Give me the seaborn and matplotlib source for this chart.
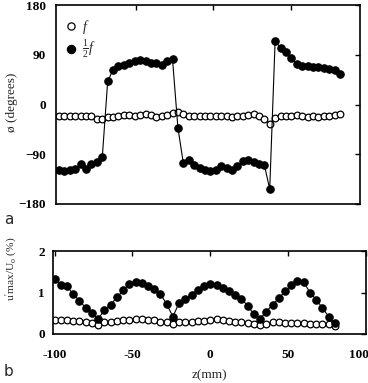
import numpy as np
import matplotlib
matplotlib.use("Agg")
import matplotlib.pyplot as plt
from matplotlib.lines import Line2D
import matplotlib.transforms as mtransforms
import seaborn as sns

# ---- panel a: phase angle vs z ----
z_top = [-100, -96.5, -93, -89.5, -86, -82.5, -79, -75.5, -72, -68.5,
         -65, -61.5, -58, -54.5, -51, -47.5, -44, -40.5, -37, -33.5,
         -30, -26.5, -23, -19.5, -16, -12.5, -9, -5.5, -2, 1.5,
         5, 8.5, 12, 15.5, 19, 22.5, 26, 29.5, 33, 36.5,
         40, 43.5, 47, 50.5, 54, 57.5, 61, 64.5, 68, 71.5,
         75, 78.5, 82]
phase_f = [-21, -21, -21, -21, -21, -20, -21, -27, -26, -23,
           -22, -20, -19, -19, -20, -19, -18, -19, -23, -21,
           -19, -16, -14, -18, -21, -20, -21, -21, -21, -20,
           -21, -20, -22, -21, -21, -19, -18, -20, -26, -35,
           -24, -21, -20, -21, -19, -21, -22, -21, -23, -21,
           -20, -19, -17]
phase_half = [-118, -120, -119, -116, -108, -116, -107, -104, -95, 42,
              63, 69, 72, 75, 78, 80, 78, 75, 75, 72,
              78, 82, -42, -106, -100, -109, -115, -119, -121, -118,
              -112, -115, -119, -112, -102, -100, -104, -107, -109, -153,
              115, 102, 95, 85, 73, 70, 69, 68, 67, 66,
              65, 62, 56]

# ---- panel b: u'max/U0 vs z ----
z_bot = [-100, -96, -92, -88, -84, -80, -76, -72, -68, -64,
         -60, -56, -52, -48, -44, -40, -36, -32, -28, -24,
         -20, -16, -12, -8, -4, 0, 4, 8, 12, 16,
         20, 24, 28, 32, 36, 40, 44, 48, 52, 56,
         60, 64, 68, 72, 76, 80]
u_f = [0.33, 0.33, 0.33, 0.32, 0.31, 0.30, 0.27, 0.22, 0.28, 0.30,
       0.31, 0.33, 0.34, 0.36, 0.35, 0.34, 0.33, 0.30, 0.28, 0.25,
       0.28, 0.30, 0.30, 0.31, 0.32, 0.34, 0.35, 0.33, 0.31, 0.30,
       0.28, 0.26, 0.24, 0.22, 0.24, 0.28, 0.28, 0.27, 0.27, 0.26,
       0.26, 0.25, 0.25, 0.24, 0.23, 0.20]
u_half = [1.32, 1.18, 1.15, 0.96, 0.80, 0.63, 0.50, 0.37, 0.57, 0.71,
          0.88, 1.05, 1.20, 1.26, 1.24, 1.15, 1.08, 0.96, 0.72, 0.42,
          0.75, 0.85, 0.95, 1.06, 1.15, 1.20, 1.17, 1.10, 1.03, 0.95,
          0.85, 0.68, 0.47, 0.37, 0.54, 0.71, 0.86, 1.03, 1.17, 1.28,
          1.25, 1.00, 0.83, 0.63, 0.42, 0.27]

sns.set_style("white")
plt.rcParams["font.family"] = ["Liberation Serif", "DejaVu Serif"]
plt.rcParams["mathtext.fontset"] = "custom"
plt.rcParams["mathtext.rm"] = "Liberation Serif"
plt.rcParams["mathtext.it"] = "Liberation Serif:italic"

fig = plt.figure(figsize=(3.68, 3.83), dpi=100)
W, H = 368, 383
ax1 = fig.add_axes([56 / W, 1 - 204 / H, (360 - 56) / W, (204 - 5) / H])
ax2 = fig.add_axes([53 / W, 1 - 334 / H, (366 - 53) / W, (334 - 251) / H])

open_kw = dict(color="black", lw=0.8, marker="o", markersize=4.8,
               markerfacecolor="white", markeredgecolor="black",
               markeredgewidth=0.9)
fill_kw = dict(color="black", lw=0.8, marker="o", markersize=5.4,
               markerfacecolor="black", markeredgecolor="black")

sns.lineplot(x=z_top, y=phase_f, ax=ax1, sort=False, **open_kw)
sns.lineplot(x=z_top, y=phase_half, ax=ax1, sort=False, **fill_kw)
sns.lineplot(x=z_bot, y=u_f, ax=ax2, sort=False, **open_kw)
sns.lineplot(x=z_bot, y=u_half, ax=ax2, sort=False, **fill_kw)

for ax in (ax1, ax2):
    for s in ax.spines.values():
        s.set_linewidth(1.2)
        s.set_color("black")
    ax.tick_params(direction="in", top=True, right=True, length=3.5,
                   width=1, labelsize=9.5, colors="black")

# panel a axes
ax1.set_xlim(-102, 95)
ax1.set_ylim(-180, 180)
ax1.set_xticks([-50, 0, 50])
ax1.set_xticklabels([])
ax1.set_yticks([180, 90, 0, -90, -180])
ax1.set_yticklabels(["180", "90", "0", "\u221290", "\u2212180"],
                    fontweight="bold", fontsize=9.5)
ax1.tick_params(axis="y", pad=7)
ax1.set_xlabel("")
ax1.set_ylabel("\u00f8 (degrees)", fontsize=9.5)
ax1.yaxis.set_label_coords(-0.125, 0.51)

handles = [Line2D([], [], ls="none", marker="o", markersize=5.2,
                  markerfacecolor="white", markeredgecolor="black",
                  markeredgewidth=0.9),
           Line2D([], [], ls="none", marker="o", markersize=5.8,
                  markerfacecolor="black", markeredgecolor="black")]
ax1.legend(handles, ["$f$", r"$\frac{1}{2}f$"], loc="upper left",
           bbox_to_anchor=(0.0, 0.985), frameon=False, fontsize=10,
           handlelength=0.8, handletextpad=0.4, labelspacing=0.15,
           borderaxespad=0.3)

# panel b axes
ax2.set_xlim(-101, 100)
ax2.set_ylim(0, 2)
ax2.set_xticks([-100, -50, 0, 50, 100])
ax2.set_xticklabels(["-100", "-50", "0", "50", "100"],
                    fontweight="bold", fontsize=9.5)
ax2.set_yticks([0, 1, 2])
ax2.set_yticklabels(["0", "1", "2"], fontweight="bold", fontsize=9.5)
ax2.tick_params(axis="x", pad=11)
ax2.tick_params(axis="y", pad=6)
# the last label sits against the right edge of the figure
last = ax2.get_xticklabels()[-1]
last.set_transform(last.get_transform() +
                   mtransforms.ScaledTranslation(-7 / 100, 0, fig.dpi_scale_trans))
ax2.set_xlabel("z(mm)", fontsize=9.5, labelpad=6)
ax2.set_ylabel(r"u$'$max/U$_\mathrm{o}$ (%)", fontsize=8.2)
ax2.yaxis.set_label_coords(-0.105, 0.78)

fig.text(4 / W, 1 - 219 / H, "a", fontsize=11, family="DejaVu Sans",
         va="center", ha="left")
fig.text(4 / W, 1 - 371 / H, "b", fontsize=11, family="DejaVu Sans",
         va="center", ha="left")

fig.savefig("out.png", dpi=100)
